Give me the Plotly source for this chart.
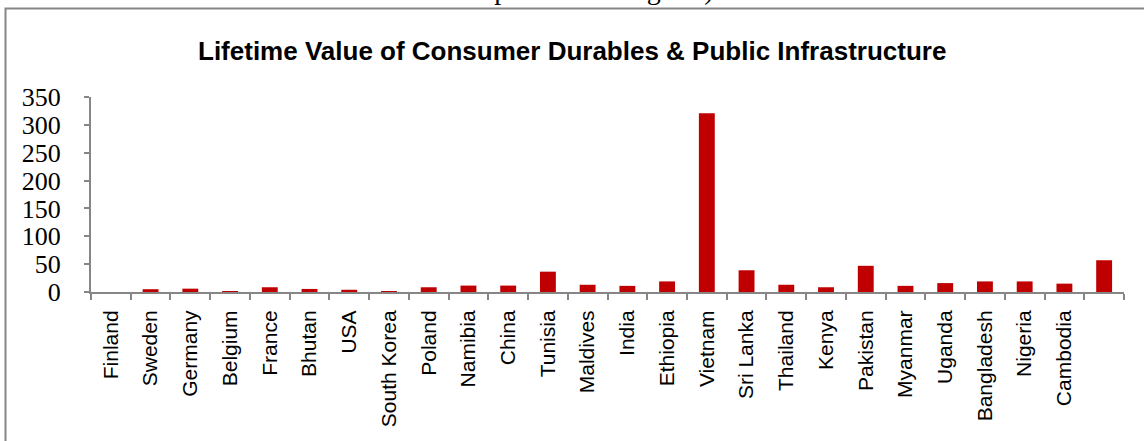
import plotly.graph_objects as go

# Lifetime value of consumer durables & public infrastructure, by country
countries = [
    "Finland", "Sweden", "Germany", "Belgium", "France", "Bhutan", "USA",
    "South Korea", "Poland", "Namibia", "China", "Tunisia", "Maldives",
    "India", "Ethiopia", "Vietnam", "Sri Lanka", "Thailand", "Kenya",
    "Pakistan", "Myanmar", "Uganda", "Bangladesh", "Nigeria", "Cambodia", " ",
]
values = [
    0, 5, 6, 1.5, 8.5, 5.5, 4, 1.5, 8.5, 11.5, 11.5, 36.5, 13,
    11, 19, 321, 39, 13, 8.5, 47, 11, 16, 19, 19, 15, 57,
]
y_ticks = [0, 50, 100, 150, 200, 250, 300, 350]

W, H = 1144, 441
L, R, T, B = 91, 20, 97, 149
pw, ph = W - L - R, H - T - B

def px_x(p):
    return (p - L) / pw

def px_y(p):
    return (H - B - p) / ph

axis_grey = "#868686"

fig = go.Figure(
    go.Bar(
        x=countries,
        y=values,
        marker=dict(color="#C00000", line=dict(width=0)),
        hoverinfo="x+y",
    )
)

fig.update_layout(
    width=W,
    height=H,
    margin=dict(l=L, r=R, t=T, b=B),
    paper_bgcolor="white",
    plot_bgcolor="white",
    bargap=0.6,
    showlegend=False,
    xaxis=dict(
        type="category",
        tickangle=-90,
        ticks="outside",
        tickson="boundaries",
        ticklen=6,
        tickwidth=2,
        tickcolor=axis_grey,
        showline=True,
        linecolor=axis_grey,
        linewidth=2,
        showgrid=False,
        ticklabelstandoff=8,
        tickfont=dict(family="Liberation Sans", size=21, color="black"),
        fixedrange=True,
    ),
    yaxis=dict(
        range=[0, 350],
        tickvals=y_ticks,
        ticks="outside",
        ticklen=5,
        tickwidth=2,
        tickcolor=axis_grey,
        showline=True,
        linecolor=axis_grey,
        linewidth=2,
        showgrid=False,
        zeroline=False,
        ticklabelstandoff=18,
        tickfont=dict(family="Liberation Serif", size=26, color="black"),
        fixedrange=True,
    ),
    shapes=[
        dict(
            type="rect", xref="paper", yref="paper",
            x0=px_x(5.5), x1=px_x(W + 10),
            y0=px_y(H + 10), y1=px_y(8.5),
            line=dict(color=axis_grey, width=2),
            fillcolor="rgba(0,0,0,0)",
            layer="below",
        )
    ],
    annotations=[
        dict(
            text="<b>Lifetime Value of Consumer Durables & Public Infrastructure</b>",
            xref="paper", yref="paper",
            x=px_x(572), y=px_y(51),
            xanchor="center", yanchor="middle",
            showarrow=False,
            font=dict(family="Liberation Sans", size=26, color="black"),
        ),
        dict(
            text="component of Progress)",
            xref="paper", yref="paper",
            x=px_x(580), y=px_y(7),
            xanchor="center", yanchor="bottom",
            showarrow=False,
            font=dict(family="Liberation Serif", size=28, color="black"),
        ),
    ],
)

fig.write_html("out.html")
